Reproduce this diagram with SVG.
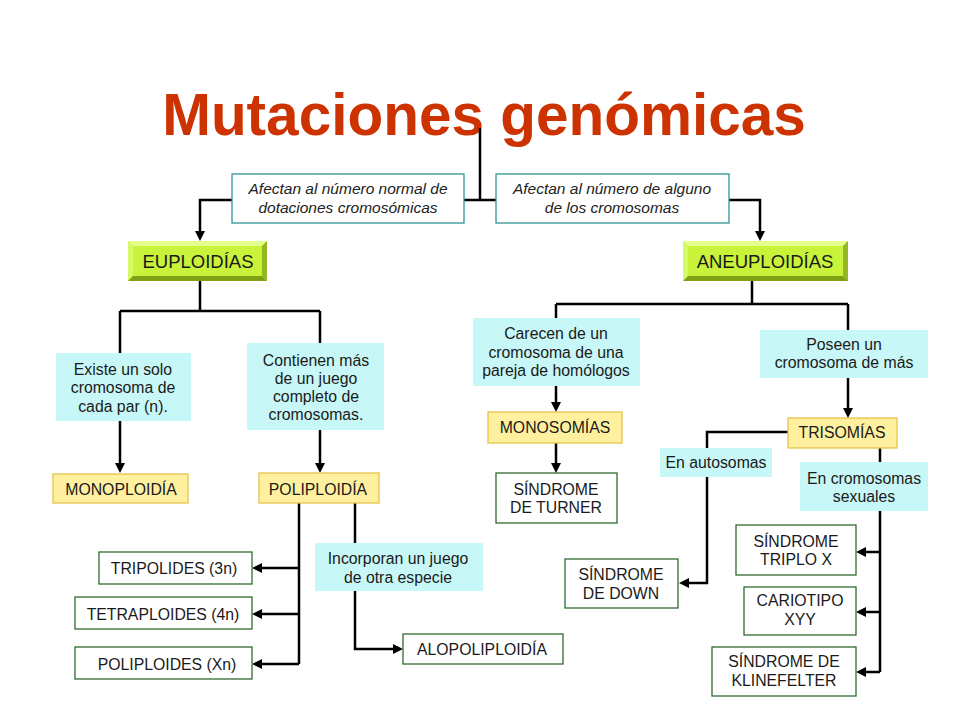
<svg xmlns="http://www.w3.org/2000/svg" width="960" height="720" viewBox="0 0 960 720">
<defs>
<marker id="ah" viewBox="0 0 10 10" refX="4" refY="5" markerWidth="10" markerHeight="10" markerUnits="userSpaceOnUse" orient="auto">
<path d="M0,0 L10,5 L0,10 z" fill="#000"/>
</marker>
<style>
text{font-family:"Liberation Sans",Arial,sans-serif;font-size:15.8px;fill:#1a1a1a;text-anchor:middle}
.title{font-size:58.5px;font-weight:bold;fill:#CC3300}
.it{font-style:italic;fill:#222;font-size:15.5px}
.big{font-size:18.5px}
.c{stroke:#000;stroke-width:2.5;fill:none}
.ca{stroke:#000;stroke-width:2.5;fill:none;marker-end:url(#ah)}
.teal{fill:#fff;stroke:#2E9494;stroke-width:1.3}
.cyan{fill:#C8F7F7}
.yel{fill:#FFF0A0;stroke:#E6C34A;stroke-width:1.3}
.grn{fill:#fff;stroke:#2F6B2F;stroke-width:1.3}
.lime{fill:#C9F23A}
.bl1{fill:#E3FF8C}
.bl2{fill:#D6FA66}
.bd1{fill:#94B824}
.bd2{fill:#7FA115}
</style>
</defs>
<rect width="960" height="720" fill="#fff"/>
<text class="title" x="484" y="135">Mutaciones genómicas</text>

<g id="connectors">
<path class="c" d="M480,128 V200 M464,200 H497"/>
<path class="ca" d="M232,200 H200 V235"/>
<path class="ca" d="M729,200 H760 V235"/>
<path class="c" d="M200,281 V311 M120,311 H320 M120,311 V353 M320,311 V343"/>
<path class="ca" d="M120,421 V467"/>
<path class="ca" d="M320,430 V467"/>
<path class="c" d="M299,503 V664"/>
<path class="ca" d="M299,568 H258"/>
<path class="ca" d="M299,614 H258"/>
<path class="ca" d="M299,664 H258"/>
<path class="c" d="M355,503 V543"/>
<path class="ca" d="M355,591 V649 H397"/>
<path class="c" d="M752,281 V304 M556,304 H848 M556,304 V318 M848,304 V330"/>
<path class="ca" d="M556,386 V406"/>
<path class="ca" d="M556,443 V467"/>
<path class="ca" d="M848,378 V412"/>
<path class="ca" d="M788,432 H707 V583 H685"/>
<path class="c" d="M880,448 V462 M880,511 V672"/>
<path class="ca" d="M880,552 H862"/>
<path class="ca" d="M880,612 H862"/>
<path class="ca" d="M880,672 H862"/>
</g>

<g id="n-afectan-normal">
<rect class="teal" x="232" y="174" width="232" height="49"/>
<text class="it"><tspan x="348" y="194">Afectan al número normal de</tspan><tspan x="348" y="213">dotaciones cromosómicas</tspan></text>
</g>
<g id="n-afectan-alguno">
<rect class="teal" x="496" y="174" width="233" height="49"/>
<text class="it"><tspan x="612" y="194">Afectan al número de alguno</tspan><tspan x="612" y="213">de los cromosomas</tspan></text>
</g>

<g id="n-euploidias">
<rect class="lime" x="128" y="241" width="139" height="40"/>
<polygon class="bl1" points="128,241 267,241 262,246 133,246"/>
<polygon class="bl2" points="128,241 133,246 133,276 128,281"/>
<polygon class="bd1" points="267,241 267,281 262,276 262,246"/>
<polygon class="bd2" points="128,281 267,281 262,276 133,276"/>
<text class="big" x="198" y="268">EUPLOIDÍAS</text>
</g>
<g id="n-aneuploidias">
<rect class="lime" x="683" y="241" width="165" height="40"/>
<polygon class="bl1" points="683,241 848,241 843,246 688,246"/>
<polygon class="bl2" points="683,241 688,246 688,276 683,281"/>
<polygon class="bd1" points="848,241 848,281 843,276 843,246"/>
<polygon class="bd2" points="683,281 848,281 843,276 688,276"/>
<text class="big" x="765" y="268">ANEUPLOIDÍAS</text>
</g>

<g id="n-existe">
<rect class="cyan" x="56" y="353" width="135" height="68"/>
<text><tspan x="123" y="375">Existe un solo</tspan><tspan x="123" y="393">cromosoma de</tspan><tspan x="123" y="412">cada par (n).</tspan></text>
</g>
<g id="n-contienen">
<rect class="cyan" x="247" y="343" width="137" height="87"/>
<text><tspan x="316" y="366">Contienen más</tspan><tspan x="316" y="384">de un juego</tspan><tspan x="316" y="402">completo de</tspan><tspan x="316" y="420">cromosomas.</tspan></text>
</g>
<g id="n-monoploidia">
<rect class="yel" x="53" y="474" width="135" height="29"/>
<text x="121" y="495">MONOPLOIDÍA</text>
</g>
<g id="n-poliploidia">
<rect class="yel" x="259" y="473" width="120" height="30"/>
<text x="318" y="495">POLIPLOIDÍA</text>
</g>
<g id="n-tripolides">
<rect class="grn" x="99" y="552" width="153" height="32"/>
<text x="174" y="574">TRIPOLIDES (3n)</text>
</g>
<g id="n-tetraploides">
<rect class="grn" x="75" y="597" width="177" height="32"/>
<text x="163" y="620">TETRAPLOIDES (4n)</text>
</g>
<g id="n-poliploides">
<rect class="grn" x="75" y="647" width="177" height="32"/>
<text x="167" y="670">POLIPLOIDES (Xn)</text>
</g>
<g id="n-incorporan">
<rect class="cyan" x="315" y="543" width="168" height="48"/>
<text><tspan x="398" y="564">Incorporan un juego</tspan><tspan x="398" y="583">de otra especie</tspan></text>
</g>
<g id="n-alopoliploidia">
<rect class="grn" x="403" y="634" width="160" height="30"/>
<text x="482" y="655">ALOPOLIPLOIDÍA</text>
</g>

<g id="n-carecen">
<rect class="cyan" x="473" y="318" width="167" height="68"/>
<text><tspan x="556" y="339">Carecen de un</tspan><tspan x="556" y="358">cromosoma de una</tspan><tspan x="556" y="376">pareja de homólogos</tspan></text>
</g>
<g id="n-poseen">
<rect class="cyan" x="760" y="330" width="168" height="48"/>
<text><tspan x="844" y="350">Poseen un</tspan><tspan x="844" y="368">cromosoma de más</tspan></text>
</g>
<g id="n-monosomias">
<rect class="yel" x="488" y="412" width="134" height="31"/>
<text x="555" y="433">MONOSOMÍAS</text>
</g>
<g id="n-turner">
<rect class="grn" x="496" y="473" width="121" height="50"/>
<text><tspan x="556" y="495">SÍNDROME</tspan><tspan x="556" y="513">DE TURNER</tspan></text>
</g>
<g id="n-trisomias">
<rect class="yel" x="788" y="418" width="109" height="30"/>
<text x="842" y="438">TRISOMÍAS</text>
</g>
<g id="n-autosomas">
<rect class="cyan" x="660" y="448" width="112" height="29"/>
<text x="716" y="468">En autosomas</text>
</g>
<g id="n-sexuales">
<rect class="cyan" x="800" y="462" width="128" height="49"/>
<text><tspan x="864" y="484">En cromosomas</tspan><tspan x="864" y="502">sexuales</tspan></text>
</g>
<g id="n-down">
<rect class="grn" x="565" y="559" width="113" height="49"/>
<text><tspan x="621" y="580">SÍNDROME</tspan><tspan x="621" y="599">DE DOWN</tspan></text>
</g>
<g id="n-triplox">
<rect class="grn" x="736" y="525" width="120" height="50"/>
<text><tspan x="796" y="547">SÍNDROME</tspan><tspan x="796" y="565">TRIPLO X</tspan></text>
</g>
<g id="n-xyy">
<rect class="grn" x="744" y="587" width="112" height="48"/>
<text><tspan x="800" y="606">CARIOTIPO</tspan><tspan x="800" y="625">XYY</tspan></text>
</g>
<g id="n-klinefelter">
<rect class="grn" x="712" y="647" width="144" height="49"/>
<text><tspan x="784" y="667">SÍNDROME DE</tspan><tspan x="784" y="686">KLINEFELTER</tspan></text>
</g>
</svg>
